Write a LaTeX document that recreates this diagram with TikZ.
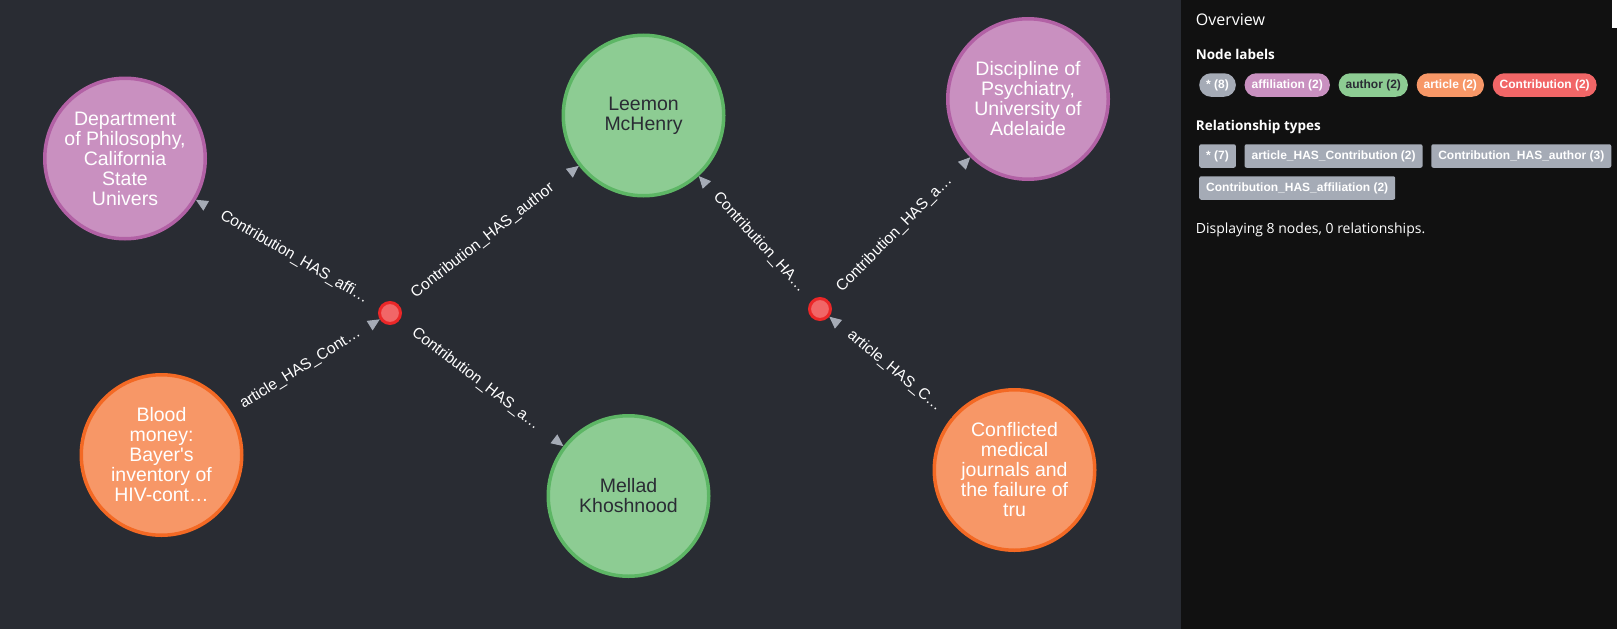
\documentclass[tikz,border=0pt]{standalone}
\usepackage{fontspec}
\setmainfont{Liberation Sans}
\newfontfamily\panelfont{Open Sans}
\usetikzlibrary{arrows.meta,positioning}

\definecolor{canvasbg}{HTML}{292C33}
\definecolor{panelbg}{HTML}{111111}
\definecolor{affilfill}{HTML}{C990C0}
\definecolor{affildraw}{HTML}{B261A5}
\definecolor{authorfill}{HTML}{8DCC93}
\definecolor{authordraw}{HTML}{5DB665}
\definecolor{articlefill}{HTML}{F79767}
\definecolor{articledraw}{HTML}{F36924}
\definecolor{contribfill}{HTML}{F16667}
\definecolor{contribdraw}{HTML}{EB2728}
\definecolor{relgray}{HTML}{A5ABB6}
\definecolor{darktext}{HTML}{2A2C34}

\begin{document}
\begin{tikzpicture}[x=1pt,y=-1pt,
    entity/.style={circle,line width=3.5pt,minimum size=160.5pt,inner sep=0pt,align=center,
        font=\fontsize{19.5}{20}\selectfont},
    affiliation/.style={entity,fill=affilfill,draw=affildraw,text=white},
    author/.style={entity,fill=authorfill,draw=authordraw,text=darktext},
    article/.style={entity,fill=articlefill,draw=articledraw,text=white},
    contribution/.style={circle,fill=contribfill,draw=contribdraw,line width=3pt,minimum size=21pt,inner sep=0pt},
    rel/.style={draw=canvasbg,line width=1pt,-{Triangle[length=12pt,width=11pt,color=relgray]}},
    rellabel/.style={pos=0.465,sloped,text=white,inner sep=0pt,font=\fontsize{15.5}{16}\selectfont},
    heading/.style={anchor=base west,text=white,inner sep=0pt,font=\panelfont\bfseries\fontsize{13.5}{16}\selectfont},
    badge/.style={minimum height=23.5pt,inner xsep=7pt,inner ysep=0pt,text=white,
        font=\bfseries\fontsize{12}{14}\selectfont},
    labelbadge/.style={badge,rounded corners=11.75pt},
    typebadge/.style={badge,fill=relgray,rounded corners=2pt},
  ]
\useasboundingbox (0,0) rectangle (1617,629);
\fill[canvasbg] (0,0) rectangle (1181,629);
\fill[panelbg] (1181,0) rectangle (1617,629);
\fill[white] (1612,0) rectangle (1617,28);

\node[affiliation] (dept) at (125,158.5) {Department\\of Philosophy,\\California\\State\\Univers};
\node[author] (leemon) at (643.5,115.5) {Leemon\\McHenry};
\node[affiliation] (psych) at (1028,99) {Discipline of\\Psychiatry,\\University of\\Adelaide};
\node[article] (blood) at (161.5,455) {Blood\\money:\\Bayer\textquotesingle s\\inventory of\\HIV-cont…};
\node[author] (mellad) at (628.5,496) {Mellad\\Khoshnood};
\node[article] (conflicted) at (1014.5,470) {Conflicted\\medical\\journals and\\the failure of\\tru};
\node[contribution] (contribA) at (390,313) {};
\node[contribution] (contribB) at (820,309) {};

\draw[rel] (contribA) -- node[rellabel] {Contribution\_HAS\_affi…} (dept);
\draw[rel] (contribA) -- node[rellabel] {Contribution\_HAS\_author} (leemon);
\draw[rel] (contribA) -- node[rellabel] {Contribution\_HAS\_a…} (mellad);
\draw[rel] (blood) -- node[rellabel] {article\_HAS\_Cont…} (contribA);
\draw[rel] (contribB) -- node[rellabel] {Contribution\_HA…} (leemon);
\draw[rel] (contribB) -- node[rellabel] {Contribution\_HAS\_a…} (psych);
\draw[rel] (conflicted) -- node[rellabel] {article\_HAS\_C…} (contribB);

\node[anchor=base west,text=white,inner sep=0pt,font=\panelfont\fontsize{16}{18}\selectfont] (overview) at (1195.7,25) {Overview};
\node[heading] (nodelabels) at (1195.7,59.3) {Node labels};
\node[labelbadge,fill=relgray,anchor=west] (allnodes) at (1199,85) {* (8)};
\node[labelbadge,fill=affilfill,right=8.3pt of allnodes] (affilbadge) {affiliation (2)};
\node[labelbadge,fill=authorfill,text=darktext,right=8.3pt of affilbadge] (authorbadge) {author (2)};
\node[labelbadge,fill=articlefill,right=8.3pt of authorbadge] (articlebadge) {article (2)};
\node[labelbadge,fill=contribfill,right=8.3pt of articlebadge] (contribbadge) {Contribution (2)};

\node[heading] (reltypes) at (1195.7,130.7) {Relationship types};
\node[typebadge,anchor=west] (allrels) at (1199,156) {* (7)};
\node[typebadge,right=8.3pt of allrels] (articlerel) {article\_HAS\_Contribution (2)};
\node[typebadge,right=8.3pt of articlerel] (authorrel) {Contribution\_HAS\_author (3)};
\node[typebadge,anchor=west] (affilrel) at (1199,188) {Contribution\_HAS\_affiliation (2)};

\node[anchor=base west,text=white,inner sep=0pt,font=\panelfont\fontsize{14}{16}\selectfont] (summary) at (1195.7,233.5) {Displaying 8 nodes, 0 relationships.};
\end{tikzpicture}
\end{document}
